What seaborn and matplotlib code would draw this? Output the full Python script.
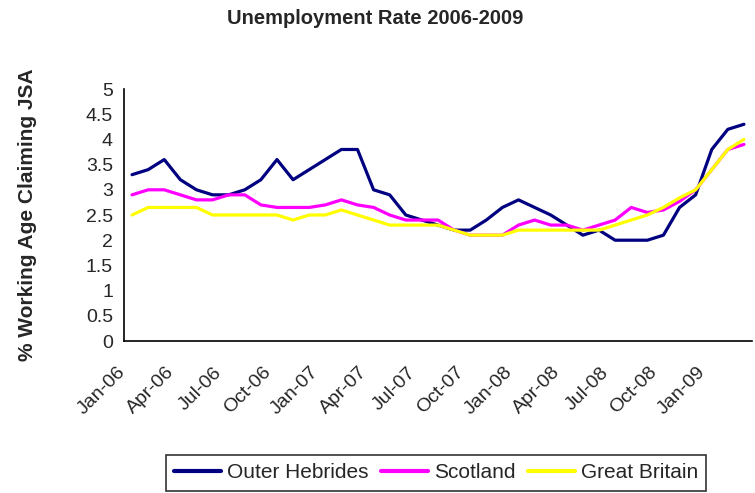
import numpy as np
import pandas as pd
import matplotlib
matplotlib.use("Agg")
import matplotlib.pyplot as plt
import matplotlib.transforms as mtransforms
import seaborn as sns

# monthly values Jan-06 .. Mar-09
outer_hebrides = [3.3, 3.4, 3.6, 3.2, 3.0, 2.9, 2.9, 3.0, 3.2, 3.6,
                  3.2, 3.4, 3.6, 3.8, 3.8, 3.0, 2.9, 2.5, 2.4, 2.3,
                  2.2, 2.2, 2.4, 2.65, 2.8, 2.65, 2.5, 2.3, 2.1, 2.2,
                  2.0, 2.0, 2.0, 2.1, 2.65, 2.9, 3.8, 4.2, 4.3]
scotland = [2.9, 3.0, 3.0, 2.9, 2.8, 2.8, 2.9, 2.9, 2.7, 2.65,
            2.65, 2.65, 2.7, 2.8, 2.7, 2.65, 2.5, 2.4, 2.4, 2.4,
            2.2, 2.1, 2.1, 2.1, 2.3, 2.4, 2.3, 2.3, 2.2, 2.3,
            2.4, 2.65, 2.55, 2.6, 2.77, 3.0, 3.4, 3.8, 3.9]
great_britain = [2.5, 2.65, 2.65, 2.65, 2.65, 2.5, 2.5, 2.5, 2.5, 2.5,
                 2.4, 2.5, 2.5, 2.6, 2.5, 2.4, 2.3, 2.3, 2.3, 2.3,
                 2.2, 2.1, 2.1, 2.1, 2.2, 2.2, 2.2, 2.2, 2.2, 2.2,
                 2.3, 2.4, 2.5, 2.65, 2.84, 3.0, 3.4, 3.8, 4.0]
tick_labels = ['Jan-06', 'Apr-06', 'Jul-06', 'Oct-06', 'Jan-07', 'Apr-07', 'Jul-07',
               'Oct-07', 'Jan-08', 'Apr-08', 'Jul-08', 'Oct-08', 'Jan-09']

series = {'Outer Hebrides': outer_hebrides,
          'Scotland': scotland,
          'Great Britain': great_britain}
colors = {'Outer Hebrides': '#000080', 'Scotland': '#FF00FF', 'Great Britain': '#FFFF00'}

n = len(outer_hebrides)
frames = []
for name, vals in series.items():
    frames.append(pd.DataFrame({'month': np.arange(n) + 0.5, 'rate': vals, 'area': name}))
data = pd.concat(frames, ignore_index=True)

sns.set_style("white")
plt.rcParams['font.family'] = ['Liberation Sans', 'DejaVu Sans']

fig = plt.figure(figsize=(7.55, 4.93), dpi=100)
ax = fig.add_axes([124 / 755, 1 - 341 / 493, (752 - 124) / 755, (341 - 89) / 493])

sns.lineplot(data=data, x='month', y='rate', hue='area', palette=colors,
             linewidth=2.3, ax=ax, legend=False)

ax.set_xlim(0, n)
ax.set_ylim(0, 5)
ax.set_yticks(np.arange(0, 5.01, 0.5))
ax.set_yticklabels(['0', '0.5', '1', '1.5', '2', '2.5', '3', '3.5', '4', '4.5', '5'])
ax.set_xticks(np.arange(0, 37, 3))
ax.set_xticklabels(tick_labels, rotation=45, ha='right', rotation_mode='anchor')
ax.tick_params(axis='both', direction='out', length=5, width=1.2, color='black',
               labelsize=14, pad=3)
ax.tick_params(axis='x', pad=11.5)
# nudge the rotated month labels a little to the left
shift = mtransforms.ScaledTranslation(-7 / 100, 0, fig.dpi_scale_trans)
for lab in ax.get_xticklabels():
    lab.set_transform(lab.get_transform() + shift)
for side in ['top', 'right']:
    ax.spines[side].set_visible(False)
for side in ['left', 'bottom']:
    ax.spines[side].set_color('black')
    ax.spines[side].set_linewidth(1.2)
ax.set_xlabel('')
ax.set_ylabel('% Working Age Claiming JSA', fontsize=15, fontweight='bold')
ax.yaxis.set_label_coords(-0.138, 0.5)

fig.text(375 / 755, 1 - 18 / 493, 'Unemployment Rate 2006-2009', ha='center', va='center',
         fontsize=14.5, fontweight='bold')

handles = [plt.Line2D([], [], color=colors[k], linewidth=3) for k in series]
leg = fig.legend(handles, list(series.keys()), loc='upper left', ncol=3,
                 bbox_to_anchor=(166 / 755, 1 - 455 / 493), fontsize=15,
                 frameon=True, fancybox=False, edgecolor='black', handlelength=2.25,
                 columnspacing=0.58, handletextpad=0.3, borderpad=0.4, borderaxespad=0)
leg.get_frame().set_linewidth(1.2)

fig.savefig('out.png', dpi=100)
